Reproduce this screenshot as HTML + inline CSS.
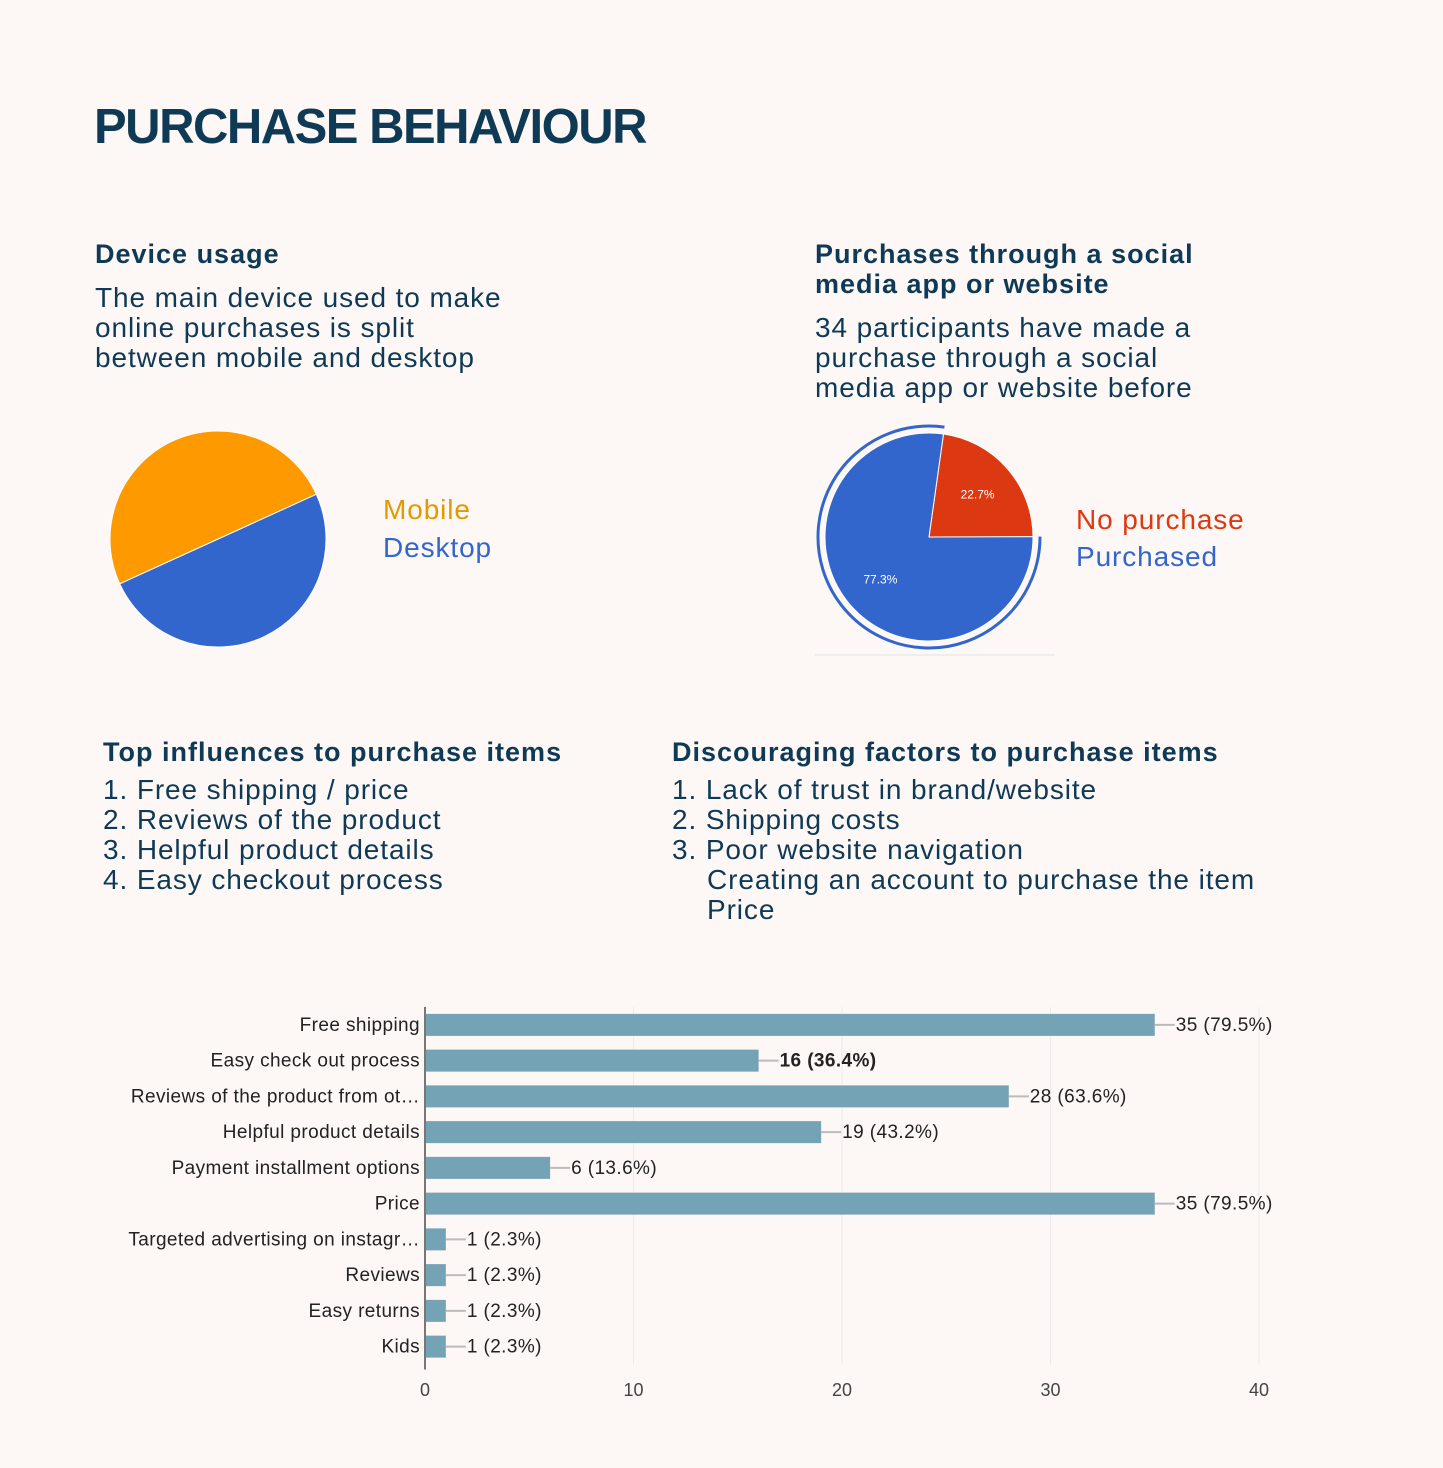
<!DOCTYPE html>
<html><head><meta charset="utf-8"><style>
body{margin:0;background:#fdf7f6;}
#page{position:relative;width:1443px;height:1468px;background:#fdf7f6;font-family:"Liberation Sans",sans-serif;color:#0e3a55;overflow:hidden}
.t{position:absolute;white-space:nowrap}
h1{position:absolute;margin:0;left:94px;top:98px;font-size:49px;font-weight:bold;letter-spacing:-1.5px;line-height:58px}
.h{font-size:27px;font-weight:bold;line-height:30px;letter-spacing:1px}
.b{font-size:28px;line-height:30px;letter-spacing:0.9px}
svg{position:absolute;left:0;top:0}
</style></head><body>
<div id="page">
<h1>PURCHASE BEHAVIOUR</h1>
<div class="t h" style="left:95px;top:239px">Device usage</div>
<div class="t b" style="left:95px;top:283px">The main device used to make<br>online purchases is split<br>between mobile and desktop</div>
<div class="t h" style="left:815px;top:239px">Purchases through a social<br>media app or website</div>
<div class="t b" style="left:815px;top:313px">34 participants have made a<br>purchase through a social<br>media app or website before</div>
<div class="t b" style="left:383px;top:495px;color:#e39a00">Mobile</div>
<div class="t b" style="left:383px;top:533px;color:#3366cc">Desktop</div>
<div class="t b" style="left:1076px;top:505px;color:#dc3912">No purchase</div>
<div class="t b" style="left:1076px;top:542px;color:#3366cc">Purchased</div>
<div class="t h" style="left:103px;top:737px">Top influences to purchase items</div>
<div class="t b" style="left:103px;top:775px">1. Free shipping / price<br>2. Reviews of the product<br>3. Helpful product details<br>4. Easy checkout process</div>
<div class="t h" style="left:672px;top:737px">Discouraging factors to purchase items</div>
<div class="t b" style="left:672px;top:775px">1. Lack of trust in brand/website<br>2. Shipping costs<br>3. Poor website navigation<br><span style="padding-left:35px">Creating an account to purchase the item</span><br><span style="padding-left:35px">Price</span></div>
<svg id="chart" width="1443" height="1468"></svg>
</div>
<script>
const deviceLabels=["Desktop","Mobile"];
const deviceValues=[22,22];
const socialLabels=["No purchase","Purchased"];
const socialValues=[10,34];
const socialPct=["22.7%","77.3%"];
const barCategories=["Free shipping","Easy check out process","Reviews of the product from ot…","Helpful product details","Payment installment options","Price","Targeted advertising on instagr…","Reviews","Easy returns","Kids"];
const barValues=[35,16,28,19,6,35,1,1,1,1];
const barPctLabels=["79.5%","36.4%","63.6%","43.2%","13.6%","79.5%","2.3%","2.3%","2.3%","2.3%"];
const xTicks=[0,10,20,30,40];

const NS="http://www.w3.org/2000/svg";
const svg=document.getElementById('chart');
function mk(tag,attrs,parent){const e=document.createElementNS(NS,tag);for(const k in attrs)e.setAttribute(k,attrs[k]);(parent||svg).appendChild(e);return e;}
function arc(cx,cy,r,a0,a1){const p=(a)=>[cx+r*Math.sin(a),cy-r*Math.cos(a)];const s=p(a0),e=p(a1);const large=(a1-a0)>Math.PI?1:0;return `M${cx},${cy}L${s[0]},${s[1]}A${r},${r} 0 ${large} 1 ${e[0]},${e[1]}Z`;}

(function(){
  const cx=218,cy=539,r=108,colors=["#3366cc","#ff9900"];
  const tot=deviceValues.reduce((a,b)=>a+b,0);
  let a=65.5*Math.PI/180;
  deviceValues.forEach((v,i)=>{const a1=a+v/tot*2*Math.PI;
    const p=mk('path',{d:arc(cx,cy,r,a,a1),fill:colors[i],stroke:'#fff','stroke-width':1});
    
    
    a=a1;});
})();

(function(){
  const cx=929,cy=537,r=104,colors=["#dc3912","#3366cc"];
  const tot=socialValues.reduce((a,b)=>a+b,0);
  let a=8*Math.PI/180;
  socialValues.forEach((v,i)=>{const a1=a+v/tot*2*Math.PI;
    if(i===1){const rr=r+7;const p2=(x)=>[cx+rr*Math.sin(x),cy-rr*Math.cos(x)];const s=p2(a),e=p2(a1);
      const ring=mk('path',{d:`M${s[0]},${s[1]}A${rr},${rr} 0 1 1 ${e[0]},${e[1]}`,fill:'none',stroke:'#3366cc','stroke-width':3});
      
      }
    const p=mk('path',{d:arc(cx,cy,r,a,a1),fill:colors[i],stroke:'#fff','stroke-width':1});
    
    
    const mid=(a+a1)/2,lr=r*0.62;
    const t=mk('text',{x:cx+lr*Math.sin(mid),y:cy-lr*Math.cos(mid)+4,'text-anchor':'middle','font-size':12,fill:'#fff','font-family':'Liberation Sans, sans-serif'});
    t.textContent=socialPct[i];
    
    
    a=a1;});
  const l=mk('line',{x1:815,y1:655,x2:1055,y2:655,stroke:'#eee','stroke-width':2});
  
  
})();

(function(){
  const x0=425,xMax=40,w=834,top=1007,rowH=35.75,bh=22;
  const X=v=>x0+v/xMax*w;
  const F='Liberation Sans, sans-serif';
  xTicks.forEach(t=>{
    if(t>0){const g=mk('line',{x1:X(t),y1:top,x2:X(t),y2:top+rowH*10,stroke:'#ececec','stroke-width':1});
      
      }
    const tx=mk('text',{x:X(t),y:1396,'text-anchor':'middle','font-size':18,fill:'#444','font-family':F});
    tx.textContent=t;
    
    
  });
  barCategories.forEach((c,i)=>{
    const cy=top+rowH*(i+0.5);
    const lab=mk('text',{x:x0-5,y:cy+6,'text-anchor':'end','font-size':19,'letter-spacing':0.4,fill:'#222','font-family':F});
    lab.textContent=c;
    
    
    const r=mk('rect',{x:x0,y:cy-bh/2,width:X(barValues[i])-x0,height:bh,fill:'#75a3b6'});
    
    
    const ln=mk('line',{x1:X(barValues[i]),y1:cy,x2:X(barValues[i])+20,y2:cy,stroke:'#bbb','stroke-width':2});
    
    
    const v=mk('text',{x:X(barValues[i])+21,y:cy+6,'font-size':19,'letter-spacing':0.4,fill:'#222','font-family':F,'font-weight':i===1?'bold':'normal'});
    v.textContent=barValues[i]+' ('+barPctLabels[i]+')';
    
    
  });
  const ax=mk('line',{x1:x0,y1:top,x2:x0,y2:top+rowH*10+5,stroke:'#777','stroke-width':2});
  
  
})();
</script>
</body></html>
